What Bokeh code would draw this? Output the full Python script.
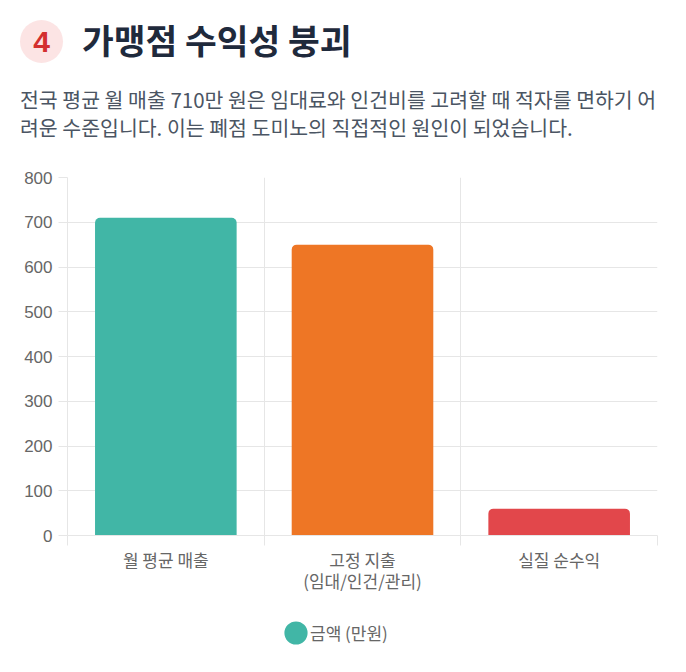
from bokeh.plotting import figure
from bokeh.layouts import column
from bokeh.models import (Legend, LegendItem, FixedTicker, Range1d, LinearAxis,
                          FactorRange, ColumnDataSource, Div)
from bokeh.embed import file_html
from bokeh.resources import INLINE

# ---- data ----
categories = ["월 평균 매출", "고정 지출\n(임대/인건/관리)", "실질 순수익"]
values = [710, 650, 60]
bar_colors = ["#41B6A6", "#EE7625", "#E2474B"]
y_ticks = [0, 100, 200, 300, 400, 500, 600, 700, 800]
series_name = "금액 (만원)"
title_text = "가맹점 수익성 붕괴"
badge_text = "4"
subtitle_lines = ["전국 평균 월 매출 710만 원은 임대료와 인건비를 고려할 때 적자를 면하기 어",
                  "려운 수준입니다. 이는 폐점 도미노의 직접적인 원인이 되었습니다."]

KR = "Noto Sans CJK KR"
GRID = "#e6e6e6"
TICK = "#666666"

header_html = f"""
<div style="position:relative;width:686px;height:150px;font-family:'{KR}';">
  <div style="position:absolute;left:20px;top:20px;width:43px;height:43px;border-radius:50%;
       background:#FCE4E4;color:#D32F2F;font-family:'Liberation Sans';font-weight:bold;font-size:30px;
       display:flex;align-items:center;justify-content:center;line-height:1;">{badge_text}</div>
  <div style="position:absolute;left:82px;top:39px;transform:translateY(-50%);font-weight:bold;
       font-size:34.5px;color:#1F2A3C;white-space:nowrap;line-height:1;">{title_text}</div>
  <div style="position:absolute;left:20px;top:85px;font-size:20.5px;line-height:28px;color:#4B5563;
       white-space:nowrap;">{subtitle_lines[0]}<br>{subtitle_lines[1]}</div>
</div>
"""
header = Div(text=header_html, width=686, height=150, margin=0)

src = ColumnDataSource(dict(cat=categories, val=values, color=bar_colors))

x_range = FactorRange(*categories)
boundaries = list(range(len(categories) + 1))

p = figure(width=686, height=450, x_range=x_range, y_range=Range1d(0, 800),
           output_backend="svg", toolbar_location=None,
           min_border_left=67, min_border_right=29, min_border_top=27,
           min_border_bottom=65)
p.outline_line_color = None

p.vbar(x="cat", top="val", width=0.72, source=src, fill_color="color",
       line_color=None, border_radius=(5, 5, 0, 0))

# y axis
p.yaxis.ticker = FixedTicker(ticks=y_ticks)
p.yaxis.axis_line_color = GRID
p.yaxis.major_tick_line_color = GRID
p.yaxis.major_tick_out = 9
p.yaxis.major_tick_in = 0
p.yaxis.minor_tick_line_color = None
p.yaxis.major_label_text_font = "Liberation Sans"
p.yaxis.major_label_text_font_size = "17px"
p.yaxis.major_label_text_color = TICK
p.yaxis.major_label_standoff = 6

# x axis: tick marks at category boundaries (adjacent to frame) + category labels
cat_axis = p.xaxis[0]
tick_axis = LinearAxis(ticker=FixedTicker(ticks=boundaries),
                       major_label_overrides={b: "" for b in boundaries},
                       major_label_text_font_size="1px", major_label_standoff=0,
                       major_tick_out=10, major_tick_in=0,
                       major_tick_line_color=GRID, minor_tick_line_color=None,
                       axis_line_color=GRID)
p.below = [tick_axis, cat_axis]

cat_axis.axis_line_color = None
cat_axis.major_tick_line_color = None
cat_axis.major_tick_out = 0
cat_axis.major_label_text_font = KR
cat_axis.major_label_text_font_size = "17px"
cat_axis.major_label_text_color = TICK
cat_axis.major_label_text_line_height = 0.85
cat_axis.major_label_standoff = 1

p.ygrid.grid_line_color = GRID
p.xgrid.grid_line_color = GRID
p.xgrid.ticker = FixedTicker(ticks=boundaries)

# legend strip (separate small figure sharing the x range; markers kept off-frame)
lg = figure(width=686, height=72, x_range=x_range, y_range=Range1d(-2, -1),
            output_backend="svg", toolbar_location=None,
            x_axis_type=None, y_axis_type=None, min_border=0)
lg.outline_line_color = None
lg.grid.grid_line_color = None
marker = lg.ellipse(x="cat", y="val", width=10, height=10, width_units="screen",
                    height_units="screen", source=src,
                    fill_color=bar_colors[0], line_color=None)
legend = Legend(items=[LegendItem(label=series_name, renderers=[marker])],
                location=(214, 25), orientation="horizontal",
                glyph_width=29, glyph_height=29, label_standoff=0,
                padding=0, margin=0, spacing=0,
                border_line_color=None, background_fill_alpha=0,
                label_text_font=KR, label_text_font_size="17px",
                label_text_color=TICK)
lg.add_layout(legend, "center")

layout = column(header, p, lg, spacing=0)
open("out.html", "w").write(file_html(layout, INLINE))
